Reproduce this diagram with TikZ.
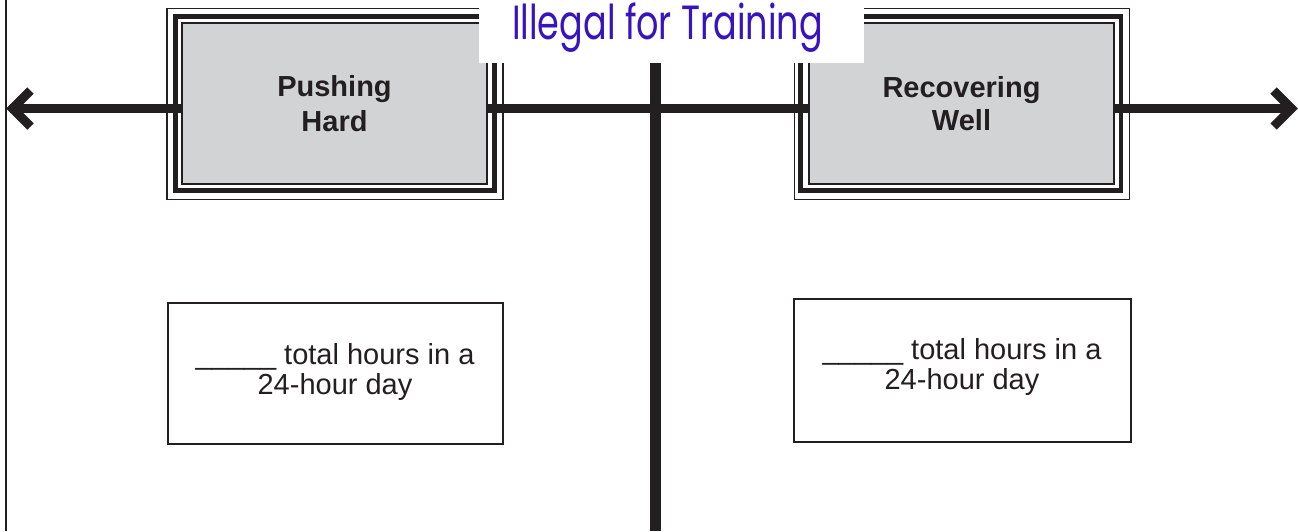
\documentclass[tikz,border=0pt]{standalone}
\usepackage{fontspec}
\setmainfont{Liberation Sans}
\newfontfamily\titlefont{Poppins}
\definecolor{ink}{HTML}{231F20}
\definecolor{boxgray}{HTML}{D1D3D4}
\definecolor{titleblue}{RGB}{55,20,190}
\begin{document}
\begin{tikzpicture}[x=1pt,y=-1pt,
  thinframe/.style={draw=ink,line width=1.4pt},
  thickframe/.style={draw=ink,line width=4.8pt},
  headbox/.style={draw=ink,line width=1.2pt,fill=boxgray,inner sep=0pt,
    minimum width=305pt,minimum height=161pt,align=center,
    font=\fontsize{29}{35}\selectfont\bfseries,text=ink},
  countbox/.style={draw=ink,line width=2pt,fill=white,inner sep=0pt},
  counttext/.style={align=center,inner sep=0pt,
    font=\fontsize{29}{30}\selectfont,text=ink},
  axis/.style={draw=ink,line width=9.5pt},
  vaxis/.style={draw=ink,line width=10.5pt},
  chevron/.style={draw=ink,line width=9pt,miter limit=10,line join=miter},
  edge/.style={draw=ink,line width=2.2pt}
]
\useasboundingbox (0,0) rectangle (1298,531);
% left edge line
\coordinate (et) at (6.2,0);
\coordinate (eb) at (6.2,531);
\draw[edge] (et) -- (eb);
% outer frames of the heading boxes
\draw[thinframe] (167,8.3) rectangle (503,199.3);
\draw[thickframe] (175.5,16.5) rectangle (494.5,190.5);
\draw[thinframe] (794.3,8.3) rectangle (1129.3,199.3);
\draw[thickframe] (800.5,16.5) rectangle (1121,190.5);
% horizontal axis with chevron tips
\coordinate (al) at (10,108.5);
\coordinate (ar) at (1290,108.5);
\draw[axis] (al) -- (ar);
\coordinate (ltip) at (12.5,108.5);
\coordinate (lup) at (30.5,90.5);
\coordinate (ldn) at (30.5,126.5);
\draw[chevron] (lup) -- (ltip) -- (ldn);
\coordinate (rtip) at (1291.6,108.5);
\coordinate (rup) at (1273.6,90.5);
\coordinate (rdn) at (1273.6,126.5);
\draw[chevron] (rup) -- (rtip) -- (rdn);
% vertical axis
\coordinate (vt) at (655.5,40);
\coordinate (vb) at (655.5,531);
\draw[vaxis] (vt) -- (vb);
% heading boxes
\node[headbox] (push) at (334.5,103.5) {Pushing\\Hard};
\node[headbox] (recov) at (961.5,103.5) {\raisebox{-2.5pt}{Recovering}\\\raisebox{-1pt}{Well}};
% count boxes
\node[countbox,minimum width=335pt,minimum height=141pt] (lbox) at (335.5,373.5) {};
\node[counttext] (ltext) at (335,372) {\_\_\_\_\_ total hours in a\\24-hour day};
\node[countbox,minimum width=337pt,minimum height=143pt] (rbox) at (962.5,370.5) {};
\node[counttext] (rtext) at (962,367) {\_\_\_\_\_ total hours in a\\24-hour day};
% title
\node[fill=white,inner sep=0pt,minimum width=385pt,minimum height=63pt,anchor=north west] (titlebox) at (479,0) {};
\node[anchor=base,inner sep=0pt,text=titleblue,font=\titlefont\fontsize{48}{52}\selectfont] (title) at (667.5,39) {\scalebox{0.73}[1]{Illegal for Training}};
\end{tikzpicture}
\end{document}
